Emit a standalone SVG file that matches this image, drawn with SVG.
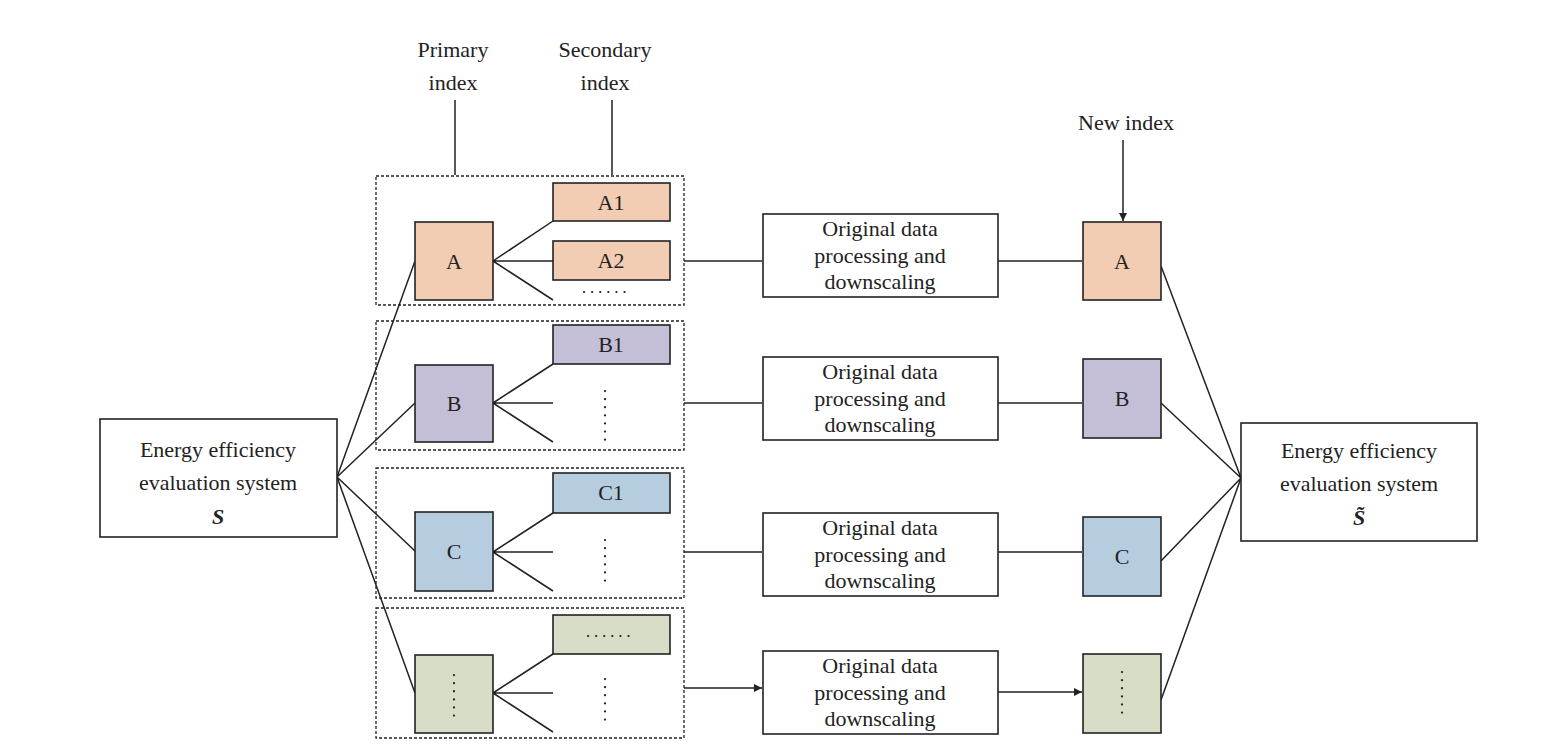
<svg xmlns="http://www.w3.org/2000/svg" width="1568" height="751" viewBox="0 0 1568 751">
<style>
text{font-family:"Liberation Serif","Times New Roman",serif;font-size:22px;fill:#222;text-anchor:middle}
.b{stroke:#222;stroke-width:1.6;fill:#fff}
.d{stroke:#222;stroke-width:1.3;fill:none;stroke-dasharray:3,2}
.l{stroke:#222;stroke-width:1.5;fill:none}
.dot{stroke:#222;stroke-width:2.2;stroke-dasharray:0.1,8;stroke-linecap:round;fill:none}
.a{fill:#f2cdb3}.bb{fill:#c4bfd7}.c{fill:#b6cde0}.g{fill:#d8ddc7}
.em{font-weight:bold;font-style:italic}
</style>
<defs><marker id="ar" viewBox="0 0 10 10" refX="10" refY="5" markerWidth="12" markerHeight="8" markerUnits="userSpaceOnUse" orient="auto"><path d="M0,0L10,5L0,10z" fill="#222"/></marker></defs>
<rect width="1568" height="751" fill="#fff"/>
<g id="labels">
<text x="453" y="57">Primary</text><text x="453" y="90">index</text>
<text x="605" y="57">Secondary</text><text x="605" y="90">index</text>
<text x="1126" y="130">New index</text>
</g>
<g id="groups">
<rect class="d" x="376" y="176" width="308" height="129"/>
<rect class="d" x="376" y="321" width="308" height="129"/>
<rect class="d" x="376" y="468" width="308" height="130"/>
<rect class="d" x="376" y="608" width="308" height="130"/>
</g>
<g id="connectors">
<path class="l" marker-end="url(#ar)" d="M455,100V175M612,100V175M1123,140V221"/>
<path class="l" d="M337,477L415,261M337,477L415,403M337,477L415,551M337,477L415,693"/>
<path class="l" d="M493,261L553,221M493,261H553M493,261L553,300"/>
<path class="l" d="M493,403L553,364M493,403H553M493,403L553,442"/>
<path class="l" d="M493,552L553,513M493,552H553M493,552L553,591"/>
<path class="l" d="M493,693L553,654M493,693H553M493,693L553,732"/>
<path class="l" marker-end="url(#ar)" d="M684,261H762M684,403H762M684,552H762M684,688H762"/>
<path class="l" marker-end="url(#ar)" d="M998,261H1082M998,403H1082M998,552H1082M998,692H1082"/>
<path class="l" d="M1161,266L1241,478M1161,403L1241,478M1161,561L1241,478M1161,700L1241,478"/>
</g>
<g id="S"><rect class="b" x="100" y="419" width="237" height="118"/>
<text x="218" y="457">Energy efficiency</text><text x="218" y="490">evaluation system</text><text class="em" x="218" y="524">S</text></g>
<g id="S2"><rect class="b" x="1241" y="423" width="236" height="118"/>
<text x="1359" y="458">Energy efficiency</text><text x="1359" y="491">evaluation system</text><text class="em" x="1359" y="525">S̃</text></g>
<g id="A"><rect class="b a" x="415" y="222" width="78" height="78"/><text x="454" y="269">A</text></g>
<g id="B"><rect class="b bb" x="415" y="365" width="78" height="77"/><text x="454" y="411">B</text></g>
<g id="C"><rect class="b c" x="415" y="512" width="78" height="79"/><text x="454" y="559">C</text></g>
<g id="D"><rect class="b g" x="415" y="655" width="78" height="78"/><path class="dot" d="M454,675V722"/></g>
<g id="A1"><rect class="b a" x="553" y="183" width="117" height="38"/><text x="611" y="210">A1</text></g>
<g id="A2"><rect class="b a" x="553" y="241" width="117" height="39"/><text x="611" y="268">A2</text><path class="dot" d="M584,292H632"/></g>
<g id="B1"><rect class="b bb" x="553" y="325" width="117" height="39"/><text x="611" y="352">B1</text><path class="dot" d="M605,391V440"/></g>
<g id="C1"><rect class="b c" x="553" y="473" width="117" height="40"/><text x="611" y="500">C1</text><path class="dot" d="M605,540V588"/></g>
<g id="D1"><rect class="b g" x="553" y="615" width="117" height="39"/><path class="dot" d="M588,636H635"/><path class="dot" d="M605,679V726"/></g>
<g id="P1"><rect class="b" x="763" y="214" width="235" height="83"/><text x="880" y="236">Original data</text><text x="880" y="263">processing and</text><text x="880" y="289">downscaling</text></g>
<g id="P2"><rect class="b" x="763" y="357" width="235" height="83"/><text x="880" y="379">Original data</text><text x="880" y="406">processing and</text><text x="880" y="432">downscaling</text></g>
<g id="P3"><rect class="b" x="763" y="513" width="235" height="83"/><text x="880" y="535">Original data</text><text x="880" y="562">processing and</text><text x="880" y="588">downscaling</text></g>
<g id="P4"><rect class="b" x="763" y="651" width="235" height="83"/><text x="880" y="673">Original data</text><text x="880" y="700">processing and</text><text x="880" y="726">downscaling</text></g>
<g id="RA"><rect class="b a" x="1083" y="222" width="78" height="78"/><text x="1122" y="269">A</text></g>
<g id="RB"><rect class="b bb" x="1083" y="359" width="78" height="79"/><text x="1122" y="406">B</text></g>
<g id="RC"><rect class="b c" x="1083" y="517" width="78" height="79"/><text x="1122" y="564">C</text></g>
<g id="RD"><rect class="b g" x="1083" y="654" width="78" height="79"/><path class="dot" d="M1122,672V720"/></g>
</svg>
